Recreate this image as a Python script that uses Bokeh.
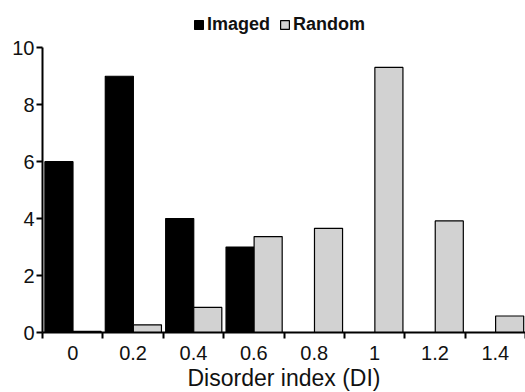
from bokeh.plotting import figure
from bokeh.models import FixedTicker, Range1d, Legend, LegendItem, ColumnDataSource
from bokeh.embed import file_html
from bokeh.resources import INLINE

categories = ["0", "0.2", "0.4", "0.6", "0.8", "1", "1.2", "1.4"]
imaged = [6, 9, 4, 3, 0, 0, 0, 0]
random_ = [0.04, 0.27, 0.88, 3.37, 3.66, 9.31, 3.92, 0.58]
y_ticks = [0, 2, 4, 6, 8, 10]

n = len(categories)
idx = list(range(n))
src = ColumnDataSource(dict(
    xi=[i + 0.2725 for i in idx],
    xr=[i + 0.7375 for i in idx],
    imaged=imaged,
    random=random_,
))

p = figure(frame_width=483, frame_height=332, output_backend="svg", toolbar_location=None,
           x_range=Range1d(0, n), y_range=Range1d(0, 11.66),
           min_border_left=42, min_border_right=0, min_border_top=0, min_border_bottom=0)

r1 = p.vbar(x="xi", top="imaged", width=0.465, source=src, fill_color="black",
            line_color="black", line_width=1.2)
r2 = p.vbar(x="xr", top="random", width=0.465, source=src, fill_color="#d2d2d2",
            line_color="black", line_width=1.2)

p.xgrid.visible = False
p.ygrid.visible = False
p.outline_line_color = None

font = "Liberation Sans"
tc = "#111111"
xa = p.xaxis[0]
xa.ticker = FixedTicker(ticks=[i + 0.5 for i in idx], minor_ticks=list(range(n + 1)))
xa.major_label_overrides = {i + 0.5: c for i, c in enumerate(categories)}
xa.major_tick_line_color = None
xa.major_tick_out = 0
xa.minor_tick_out = 6
xa.minor_tick_in = 0
xa.minor_tick_line_color = "black"
xa.minor_tick_line_width = 2
xa.axis_line_width = 2
xa.axis_line_color = "black"
xa.major_label_text_font = font
xa.major_label_text_font_size = "20px"
xa.major_label_text_color = tc
xa.major_label_standoff = 7
xa.axis_label = "Disorder index (DI)"
xa.axis_label_text_font = font
xa.axis_label_text_font_size = "23px"
xa.axis_label_text_font_style = "normal"
xa.axis_label_text_color = tc
xa.axis_label_standoff = 2

ya = p.yaxis[0]
ya.ticker = FixedTicker(ticks=y_ticks)
ya.bounds = (0, 10)
ya.minor_tick_line_color = None
ya.major_tick_out = 6
ya.major_tick_in = 0
ya.major_tick_line_width = 2
ya.axis_line_width = 2
ya.axis_line_color = "black"
ya.major_label_text_font = font
ya.major_label_text_font_size = "20px"
ya.major_label_text_color = tc
ya.major_label_standoff = 2

legend = Legend(items=[LegendItem(label="Imaged", renderers=[r1]),
                       LegendItem(label="Random", renderers=[r2])],
                orientation="horizontal", location=(151, 297),
                label_text_font=font, label_text_font_style="bold",
                label_text_font_size="18px", label_text_color=tc,
                glyph_width=11, glyph_height=11,
                label_standoff=3, spacing=9, padding=2, margin=0,
                border_line_color=None, background_fill_alpha=0)
p.add_layout(legend)

open("out.html", "w").write(file_html(p, INLINE))
